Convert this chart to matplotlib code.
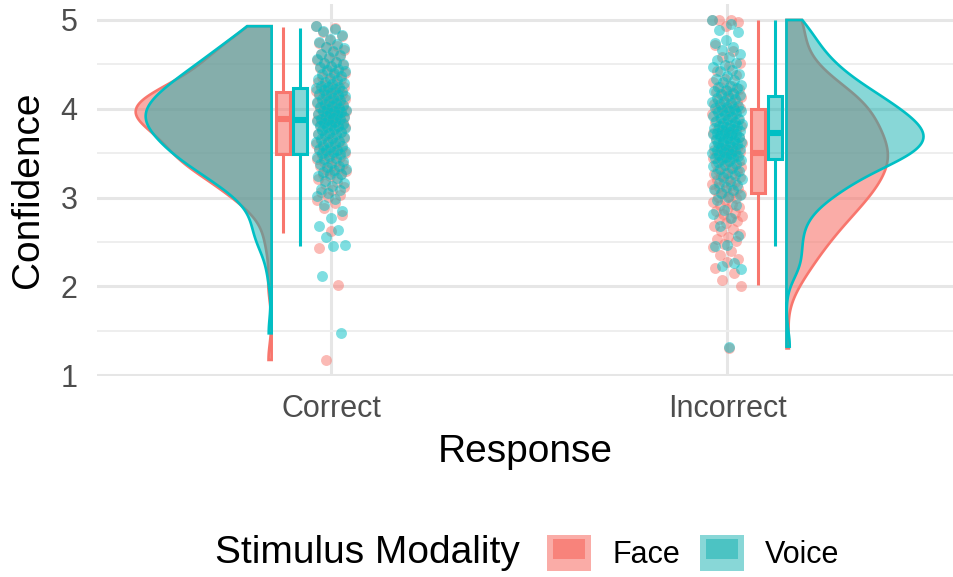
import numpy as np
import matplotlib.pyplot as plt
from matplotlib.patches import Patch, Polygon
from matplotlib.lines import Line2D
from matplotlib.colors import to_rgba

plt.rcParams['font.family'] = ['Liberation Sans', 'DejaVu Sans']

responses = ['Correct', 'Incorrect']
modalities = ['Face', 'Voice']
colors = {'Face': '#F8766D', 'Voice': '#00BFC4'}
fills = {'Face': to_rgba('#F8766D', 0.6), 'Voice': to_rgba('#12B0B0', 0.5)}

# confidence ratings
face_correct = [4.93, 4.91, 4.87, 4.82, 4.78,
                4.74, 4.71, 4.70, 4.66, 4.64, 4.62, 4.59, 4.57, 4.55, 4.53, 4.51,
                4.49, 4.47, 4.46, 4.43, 4.41, 4.40, 4.38, 4.36, 4.33, 4.32, 4.30, 4.28, 4.27, 4.25,
                4.24, 4.23, 4.22, 4.21, 4.20, 4.19, 4.18, 4.17, 4.16, 4.15, 4.13, 4.12,
                4.11, 4.10, 4.09, 4.08, 4.07, 4.06, 4.05, 4.04, 4.03, 4.02, 4.01, 4.00,
                3.99, 3.98, 3.97, 3.97, 3.96, 3.95, 3.94, 3.93, 3.92, 3.91, 3.90, 3.89, 3.89,
                3.88, 3.87, 3.86, 3.85, 3.84, 3.83, 3.82, 3.81, 3.80, 3.79, 3.77, 3.76,
                3.74, 3.73, 3.72, 3.70, 3.69, 3.67, 3.66, 3.64, 3.63, 3.62, 3.60, 3.59,
                3.57, 3.56, 3.55, 3.54, 3.53, 3.51, 3.50,
                3.49, 3.48, 3.46, 3.45, 3.43, 3.41, 3.40, 3.38, 3.36, 3.35, 3.33, 3.31,
                3.30, 3.29, 3.27, 3.26,
                3.24, 3.21, 3.18, 3.15, 3.12, 3.09, 3.06, 3.03, 3.01,
                2.97, 2.94, 2.88, 2.80, 2.62, 2.43, 2.01, 1.17]

voice_correct = [4.93, 4.90, 4.88, 4.83, 4.79,
                 4.75, 4.73, 4.70, 4.68, 4.65, 4.62, 4.60, 4.58, 4.56, 4.53, 4.51,
                 4.50, 4.48, 4.47, 4.45, 4.44, 4.42, 4.40, 4.39, 4.37, 4.35, 4.34, 4.32,
                 4.30, 4.29, 4.28, 4.26, 4.25,
                 4.24, 4.23, 4.22, 4.21, 4.20, 4.18, 4.17, 4.16, 4.15, 4.14, 4.12,
                 4.11, 4.10, 4.09, 4.08, 4.06, 4.05, 4.04, 4.03, 4.02, 4.01, 4.00,
                 3.99, 3.98, 3.97, 3.96, 3.95, 3.94, 3.93, 3.92, 3.91, 3.90, 3.89, 3.88,
                 3.87, 3.86, 3.85, 3.84, 3.83, 3.82, 3.81, 3.80, 3.79, 3.78, 3.77, 3.76,
                 3.74, 3.73, 3.72, 3.71, 3.70, 3.68, 3.67, 3.66, 3.64, 3.63, 3.62,
                 3.61, 3.59, 3.58, 3.57, 3.55, 3.54, 3.53, 3.52, 3.51, 3.50,
                 3.49, 3.47, 3.46, 3.44, 3.43, 3.41, 3.39, 3.38, 3.36, 3.34, 3.32,
                 3.31, 3.29, 3.27, 3.26,
                 3.24, 3.22, 3.19, 3.16, 3.13, 3.10, 3.08, 3.05, 3.02,
                 2.98, 2.92, 2.85, 2.77, 2.68, 2.63, 2.56, 2.47, 2.45, 2.12, 1.47]

face_incorrect = [5.00, 5.00, 5.00, 4.98, 4.93,
                  4.72, 4.65, 4.58, 4.52,
                  4.48, 4.43, 4.38, 4.34, 4.30, 4.26,
                  4.24, 4.22, 4.20, 4.19, 4.17, 4.15, 4.13, 4.12, 4.10, 4.08, 4.06,
                  4.05, 4.03, 4.02, 4.01,
                  4.00, 3.99, 3.97, 3.96, 3.94, 3.92, 3.90, 3.88, 3.87, 3.85, 3.83,
                  3.81, 3.80, 3.78, 3.77, 3.76,
                  3.74, 3.73, 3.71, 3.70, 3.68, 3.67, 3.65, 3.64, 3.62, 3.61, 3.59,
                  3.58, 3.56, 3.55, 3.54, 3.53, 3.52, 3.51,
                  3.50, 3.49, 3.48, 3.46, 3.45, 3.44, 3.42, 3.41, 3.40, 3.38, 3.37,
                  3.35, 3.34, 3.33, 3.31, 3.30, 3.28, 3.27, 3.26,
                  3.24, 3.23, 3.21, 3.20, 3.18, 3.17, 3.15, 3.14, 3.12, 3.11, 3.09,
                  3.08, 3.06, 3.05, 3.04, 3.02, 3.01,
                  2.99, 2.97, 2.95, 2.93, 2.91, 2.89, 2.87, 2.85, 2.83, 2.81, 2.79,
                  2.77, 2.76,
                  2.74, 2.71, 2.68, 2.65, 2.62, 2.59, 2.56, 2.53, 2.51,
                  2.48, 2.44, 2.40, 2.35, 2.31, 2.27, 2.21, 2.15, 2.07, 2.00, 1.30]

voice_incorrect = [5.00, 4.95, 4.89, 4.86, 4.78,
                   4.74, 4.70, 4.66, 4.62, 4.58, 4.55, 4.51,
                   4.49, 4.47, 4.44, 4.42, 4.39, 4.37, 4.34, 4.32, 4.30, 4.27, 4.26,
                   4.24, 4.23, 4.21, 4.20, 4.18, 4.17, 4.15, 4.14, 4.12, 4.11, 4.09,
                   4.08, 4.06, 4.05, 4.03, 4.02, 4.01,
                   4.00, 3.99, 3.98, 3.97, 3.96, 3.95, 3.93, 3.92, 3.91, 3.90, 3.89,
                   3.88, 3.86, 3.85, 3.84, 3.83, 3.82, 3.81, 3.80, 3.79, 3.78, 3.77, 3.76,
                   3.75, 3.74, 3.73, 3.72, 3.71, 3.71, 3.70, 3.69, 3.68, 3.67, 3.66,
                   3.65, 3.64, 3.63, 3.62, 3.61, 3.60, 3.59, 3.58, 3.57, 3.56, 3.55,
                   3.54, 3.53, 3.52, 3.51,
                   3.50, 3.49, 3.48, 3.47, 3.46, 3.45, 3.44, 3.43, 3.42, 3.41, 3.40,
                   3.38, 3.37, 3.35, 3.33, 3.32, 3.30, 3.28, 3.27, 3.25,
                   3.23, 3.21, 3.19, 3.16, 3.14, 3.12, 3.10, 3.08, 3.05, 3.03, 3.01,
                   2.97, 2.92, 2.86, 2.81, 2.77, 2.68, 2.57,
                   2.47, 2.45, 2.26, 2.23, 2.19, 1.32]

ratings = {('Correct', 'Face'): face_correct, ('Correct', 'Voice'): voice_correct,
           ('Incorrect', 'Face'): face_incorrect, ('Incorrect', 'Voice'): voice_incorrect}

# boxplot summaries: lower whisker, Q1, median, Q3, upper whisker
box_stats = {('Correct', 'Face'): [2.60, 3.49, 3.89, 4.19, 4.92],
             ('Correct', 'Voice'): [2.45, 3.49, 3.87, 4.23, 4.91],
             ('Incorrect', 'Face'): [2.01, 3.05, 3.50, 4.00, 5.00],
             ('Incorrect', 'Voice'): [2.45, 3.43, 3.73, 4.14, 5.00]}


def kde(vals, grid):
    vals = np.asarray(vals)
    n = len(vals)
    iqr = np.subtract(*np.percentile(vals, [75, 25]))
    bw = 0.9 * min(vals.std(ddof=1), iqr / 1.34) * n ** -0.2
    z = (grid[:, None] - vals[None, :]) / bw
    return np.exp(-0.5 * z ** 2).sum(axis=1) / (n * bw * np.sqrt(2 * np.pi))


fig = plt.figure(figsize=(9.54, 5.77), dpi=100)
ax = fig.add_axes([97 / 954, 1 - 376 / 577, 857 / 954, 372 / 577])

# half violins, one common scale for all groups
dens = {}
for key, vals in ratings.items():
    grid = np.linspace(min(vals), max(vals), 200)
    dens[key] = (grid, kde(vals, grid))
dmax = max(d.max() for g, d in dens.values())
max_width = 0.346

for i, resp in enumerate(responses):
    side = -1 if resp == 'Correct' else 1
    base = i + 1 + side * 0.15
    for mod in modalities:
        grid, d = dens[(resp, mod)]
        xs = base + side * d / dmax * max_width
        verts = np.column_stack([np.r_[base, xs, base], np.r_[grid[0], grid, grid[-1]]])
        ax.add_patch(Polygon(verts, closed=True, facecolor=fills[mod],
                             edgecolor=colors[mod], linewidth=1.9, zorder=2))

# jittered raw points
for i, resp in enumerate(responses):
    for mod in modalities:
        vals = np.asarray(ratings[(resp, mod)])
        jit = ((np.arange(len(vals)) * 0.6180339887) % 1.0 - 0.5) * 2 * 0.038
        ax.scatter(i + 1 + jit, vals, s=62, color=colors[mod], alpha=0.5,
                   linewidths=0, zorder=3)

# boxplots
for i, resp in enumerate(responses):
    side = -1 if resp == 'Correct' else 1
    for j, mod in enumerate(modalities):
        lo, q1, med, q3, hi = box_stats[(resp, mod)]
        pos = i + 1 + side * 0.1 + (j - 0.5) * 0.042
        c = colors[mod]
        ax.bxp([dict(whislo=lo, q1=q1, med=med, q3=q3, whishi=hi)], positions=[pos],
               widths=0.036, patch_artist=True, showfliers=False, showcaps=False,
               manage_ticks=False, zorder=4,
               boxprops=dict(facecolor=fills[mod], edgecolor=c, linewidth=2.2),
               whiskerprops=dict(color=c, linewidth=2.2, solid_capstyle='butt'),
               medianprops=dict(color=c, linewidth=4.4, solid_capstyle='butt'))

ax.set_xlim(0.409, 2.573)
ax.set_ylim(0.989, 5.18)
ax.set_xticks([1, 2])
ax.set_xticklabels(responses)
ax.set_yticks([1, 2, 3, 4, 5])
ax.set_yticks([1.5, 2.5, 3.5, 4.5], minor=True)
ax.grid(True, which='major', color='#E6E6E6', linewidth=2.2, zorder=0)
ax.grid(True, which='minor', axis='y', color='#EDEDED', linewidth=1.3, zorder=0)
ax.set_axisbelow(True)
for s in ax.spines.values():
    s.set_visible(False)
ax.tick_params(axis='both', which='both', length=0, labelsize=22, labelcolor='#4D4D4D')
ax.tick_params(axis='x', pad=13)
ax.tick_params(axis='y', pad=14)

ax.set_xlabel('Response', fontsize=28, va='baseline')
ax.xaxis.set_label_coords(0.5, -0.231)
ax.set_ylabel('Confidence', fontsize=28, va='center')
ax.yaxis.set_label_coords(-0.08, 0.5)

# legend
inner_fill = {'Face': to_rgba('#F8766D', 0.75), 'Voice': to_rgba('#12B0B0', 0.5)}
handles = []
for mod in modalities:
    outer = Patch(facecolor=fills[mod], edgecolor='none')
    inner = Line2D([], [], linestyle='none', markersize=23, markeredgewidth=0,
                   marker=[(-16, -10.5), (16, -10.5), (16, 10.5), (-16, 10.5), (-16, -10.5)],
                   markerfacecolor=inner_fill[mod])
    handles.append((outer, inner))
fig.legend(handles, modalities, loc='center left', bbox_to_anchor=(547 / 954, 1 - 553 / 577),
           ncol=2, frameon=False, fontsize=22, handlelength=1.44, handleheight=1.41,
           handletextpad=0.69, columnspacing=0.65, borderpad=0, borderaxespad=0)
fig.text(215 / 954, 1 - 553 / 577, 'Stimulus Modality', fontsize=28, ha='left', va='center')

fig.savefig('out.png', dpi=100)
